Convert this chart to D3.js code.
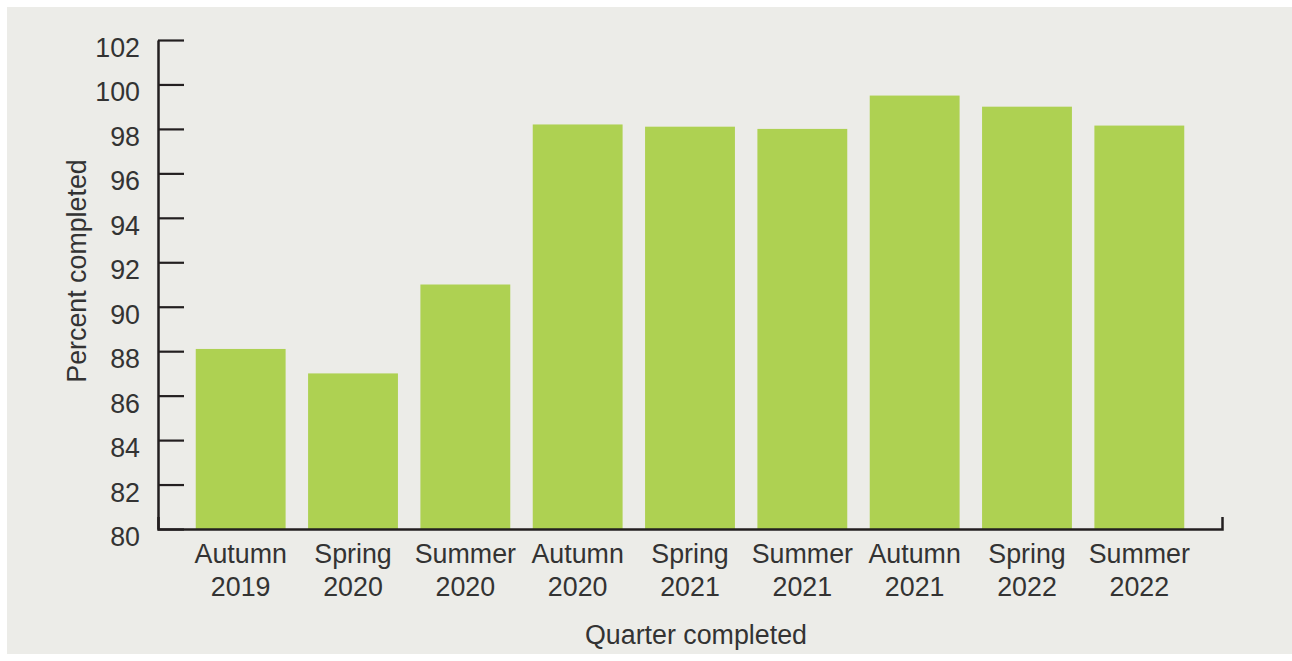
<!DOCTYPE html>
<html>
<head>
<meta charset="utf-8">
<script src="https://cdn.jsdelivr.net/npm/d3@7"></script>
<style>
  body { margin: 0; background: #fff; }
  svg text { font-family: "Liberation Sans", Arial, Helvetica, sans-serif; fill: #333; }
</style>
</head>
<body>
<svg width="1292" height="661"></svg>
<script>
// quarters and completion rates
var quarters = ['Autumn 2019', 'Spring 2020', 'Summer 2020', 'Autumn 2020', 'Spring 2021',
                'Summer 2021', 'Autumn 2021', 'Spring 2022', 'Summer 2022'];
var percentCompleted = [88.1, 87.0, 91.0, 98.2, 98.1, 98.0, 99.5, 99.0, 98.15];
var yTicks = [80, 82, 84, 86, 88, 90, 92, 94, 96, 98, 100, 102];

var fontSize = '26.8px';

var svg = d3.select('svg');

// grey panel behind everything
svg.append('rect')
    .attr('x', 7).attr('y', 7)
    .attr('width', 1285).attr('height', 647)
    .attr('fill', '#ecece8');

var ScaleX = d3.scaleBand()
    .domain(quarters)
    .range([158, 1222])
    .paddingInner(0.2)
    .paddingOuter(0.336);

var ScaleY = d3.scaleLinear().domain([80, 102]).range([529, 40]);

// bars
svg.selectAll('.bar')
    .data(quarters)
    .enter()
    .append('rect')
    .attr('class', 'bar')
    .attr('x', function(d){ return ScaleX(d); })
    .attr('width', ScaleX.bandwidth())
    .attr('y', function(d, i){ return ScaleY(percentCompleted[i]); })
    .attr('height', function(d, i){ return ScaleY(80) - ScaleY(percentCompleted[i]); })
    .attr('fill', '#aed152');

// y axis, ticks point into the plot
var yAxis = svg.append('g')
    .attr('transform', 'translate(158,0)')
    .call(d3.axisLeft(ScaleY).tickValues(yTicks).tickSize(-26).tickSizeOuter(0).tickPadding(18));

yAxis.selectAll('line').attr('stroke', '#231f20').attr('stroke-width', 2.2);
yAxis.select('.domain').attr('stroke', '#231f20').attr('stroke-width', 2.5);
yAxis.selectAll('text')
    .attr('dy', '16.5px')
    .style('font-size', fontSize);

// x axis with a small upturned end
var xAxis = svg.append('g')
    .attr('transform', 'translate(0,529)')
    .call(d3.axisBottom(ScaleX).tickSize(0).tickSizeOuter(-12).tickPadding(0));

xAxis.select('.domain').attr('stroke', '#231f20').attr('stroke-width', 2.5);
xAxis.selectAll('text')
    .style('font-size', fontSize)
    .attr('y', 0)
    .attr('dy', null)
    .each(function(d){
        var parts = d.split(' ');
        var t = d3.select(this).text(null);
        t.append('tspan').attr('x', 0).attr('y', 34).text(parts[0]);
        t.append('tspan').attr('x', 0).attr('y', 67).text(parts[1]);
    });

// axis titles
svg.append('text')
    .attr('x', 696)
    .attr('y', 644)
    .attr('text-anchor', 'middle')
    .style('font-size', fontSize)
    .text('Quarter completed');

svg.append('text')
    .attr('transform', 'translate(86,271) rotate(-90)')
    .attr('text-anchor', 'middle')
    .style('font-size', fontSize)
    .text('Percent completed');
</script>
</body>
</html>
